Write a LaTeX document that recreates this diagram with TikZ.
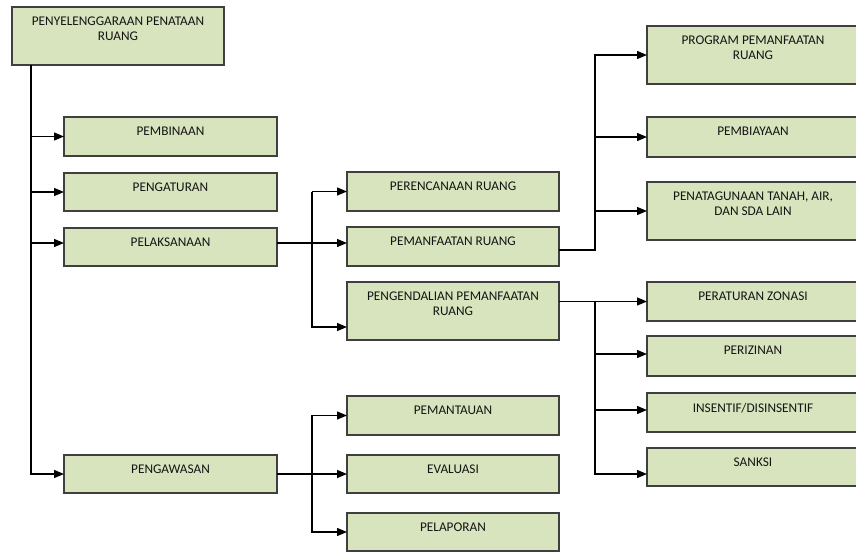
\documentclass[tikz,border=0pt]{standalone}
\usepackage{fontspec}
\setmainfont{Carlito}
\usetikzlibrary{arrows.meta,calc}
\definecolor{boxfill}{HTML}{D7E4BD}
\definecolor{boxline}{HTML}{3F3F3F}
\definecolor{txtcol}{HTML}{141414}
\tikzset{
  box/.style={draw=boxline, fill=boxfill, line width=1.5pt, rectangle, inner sep=0pt, outer sep=0pt, anchor=north west},
  lbl/.style={anchor=north, inner sep=0pt, font=\fontsize{13.3}{15}\selectfont, text=txtcol, align=center},
  conn/.style={line width=1.3pt, draw=black},
  arr/.style={conn, -{Triangle[length=10pt,width=8pt]}},
}
\newcommand\bx[6]{%
  \node[box, minimum width=#4pt, minimum height=#5pt] (#1) at (#2,#3) {};
  \node[lbl] (#1-t) at ([yshift=-10pt]#1.north) {#6};
}
\begin{document}
\begin{tikzpicture}[x=1pt,y=-1pt]
\useasboundingbox (0,0) rectangle (856,552);
\clip (0,0) rectangle (856,552);
\fill[white] (0,0) rectangle (856,552);
% boxes
\bx{root}{12}{7}{212}{58}{PENYELENGGARAAN PENATAAN\\RUANG}
\bx{pembinaan}{64}{117}{213}{39}{PEMBINAAN}
\bx{pengaturan}{64}{173}{213}{38}{PENGATURAN}
\bx{pelaksanaan}{64}{228}{213}{38}{PELAKSANAAN}
\bx{pengawasan}{64}{455}{213}{38}{PENGAWASAN}
\bx{perencanaan}{347}{172}{212}{39}{PERENCANAAN RUANG}
\bx{pemanfaatan}{347}{227}{212}{39}{PEMANFAATAN RUANG}
\bx{pengendalian}{347}{282}{212}{58}{PENGENDALIAN PEMANFAATAN\\RUANG}
\bx{pemantauan}{347}{396}{212}{39}{PEMANTAUAN}
\bx{evaluasi}{347}{455}{212}{38}{EVALUASI}
\bx{pelaporan}{347}{513}{212}{38}{PELAPORAN}
\bx{program}{647}{26}{212}{58}{PROGRAM PEMANFAATAN\\RUANG}
\bx{pembiayaan}{647}{117}{212}{40}{PEMBIAYAAN}
\bx{penatagunaan}{647}{182}{212}{58}{PENATAGUNAAN TANAH, AIR,\\DAN SDA LAIN}
\bx{peraturan}{647}{282}{212}{39}{PERATURAN ZONASI}
\bx{perizinan}{647}{336}{212}{40}{PERIZINAN}
\bx{insentif}{647}{393}{212}{39}{INSENTIF/DISINSENTIF}
\bx{sanksi}{647}{448}{212}{38}{SANKSI}
% helper coordinates
\coordinate (tr) at ([xshift=19pt]root.south west);
\coordinate (b1) at (312,0);
\coordinate (b2) at (595,0);
\coordinate (pl) at ([yshift=4pt]pelaksanaan.west);
\coordinate (ple) at ([yshift=4pt]pelaksanaan.east);
\coordinate (pmw) at ([yshift=3.5pt]pemanfaatan.west);
\coordinate (pme) at ([yshift=-3.5pt]pemanfaatan.east);
\coordinate (pgw) at ([yshift=-16pt]pengendalian.west);
\coordinate (pge) at ([yshift=9.5pt]pengendalian.east);
\coordinate (pzw) at ([yshift=2pt]perizinan.west);
\coordinate (inw) at ([yshift=2.5pt]insentif.west);
\coordinate (skw) at ([yshift=-7pt]sanksi.west);
% trunk
\draw[arr] (tr) |- (pengawasan.west);
\draw[arr] (tr |- pembinaan.west) -- (pembinaan.west);
\draw[arr] (tr |- pengaturan.west) -- (pengaturan.west);
\draw[arr] (tr |- pl) -- (pl);
% pelaksanaan branch
\draw[arr] (ple) -- (pmw);
\draw[arr] (b1 |- perencanaan.west) -- (perencanaan.west);
\draw[arr] (b1 |- perencanaan.west) |- (pgw);
% pemanfaatan branch
\draw[arr] (pme) -| (b2 |- program.west) -- (program.west);
\draw[arr] (b2 |- pembiayaan.west) -- (pembiayaan.west);
\draw[arr] (b2 |- penatagunaan.west) -- (penatagunaan.west);
% pengendalian branch
\draw[arr] (pge) -- (pge -| peraturan.west);
\draw[arr] (b2 |- pge) |- (skw);
\draw[arr] (b2 |- pzw) -- (pzw);
\draw[arr] (b2 |- inw) -- (inw);
% pengawasan branch
\draw[arr] (pengawasan.east) -- (evaluasi.west);
\draw[arr] (b1 |- evaluasi.west) |- (pemantauan.west);
\draw[arr] (b1 |- evaluasi.west) |- (pelaporan.west);
\end{tikzpicture}
\end{document}
